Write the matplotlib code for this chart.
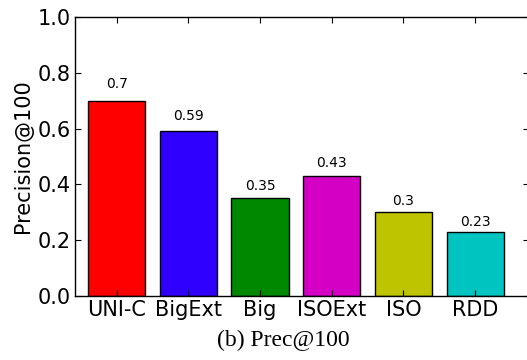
import matplotlib
matplotlib.use("Agg")
import matplotlib.pyplot as plt
import numpy as np

# data
methods = ["UNI-C", "BigExt", "Big", "ISOExt", "ISO", "RDD"]
precision = [0.70, 0.59, 0.35, 0.43, 0.30, 0.23]
bar_colors = ["#ff0000", "#3000ff", "#008800", "#d400c4", "#bfc400", "#00c4c0"]

fig = plt.figure(figsize=(5.27, 3.6), dpi=100)
ax = fig.add_axes([75 / 527, 64 / 360, 454 / 527, 279 / 360])

x = np.arange(len(methods))
bars = ax.bar(x, precision, width=0.8, color=bar_colors, edgecolor="black", linewidth=1.0)

# value labels above each bar
for rect, val in zip(bars, precision):
    h = rect.get_height()
    ax.text(rect.get_x() + rect.get_width() / 2, 1.05 * h, "%s" % val,
            ha="center", va="bottom", fontsize=10)

ax.set_xlim(-0.58, 5.75)
ax.set_ylim(0, 1.0)
ax.set_xticks(x)
ax.set_xticklabels(methods, fontsize=15)
ax.set_yticks(np.arange(0, 1.01, 0.2))
ax.set_yticklabels(["%.1f" % v for v in np.arange(0, 1.01, 0.2)], fontsize=15)
ax.tick_params(direction="in", top=True, right=True, length=4, width=0.8, pad=3)
ax.set_ylabel("Precision@100", fontsize=15, labelpad=3)
for sp in ax.spines.values():
    sp.set_linewidth(1.0)

fig.text(283 / 527, 1 - 340 / 360, "(b) Prec@100", ha="center", va="center",
         fontsize=17, family="Liberation Serif")

fig.savefig("out.png", dpi=100)
